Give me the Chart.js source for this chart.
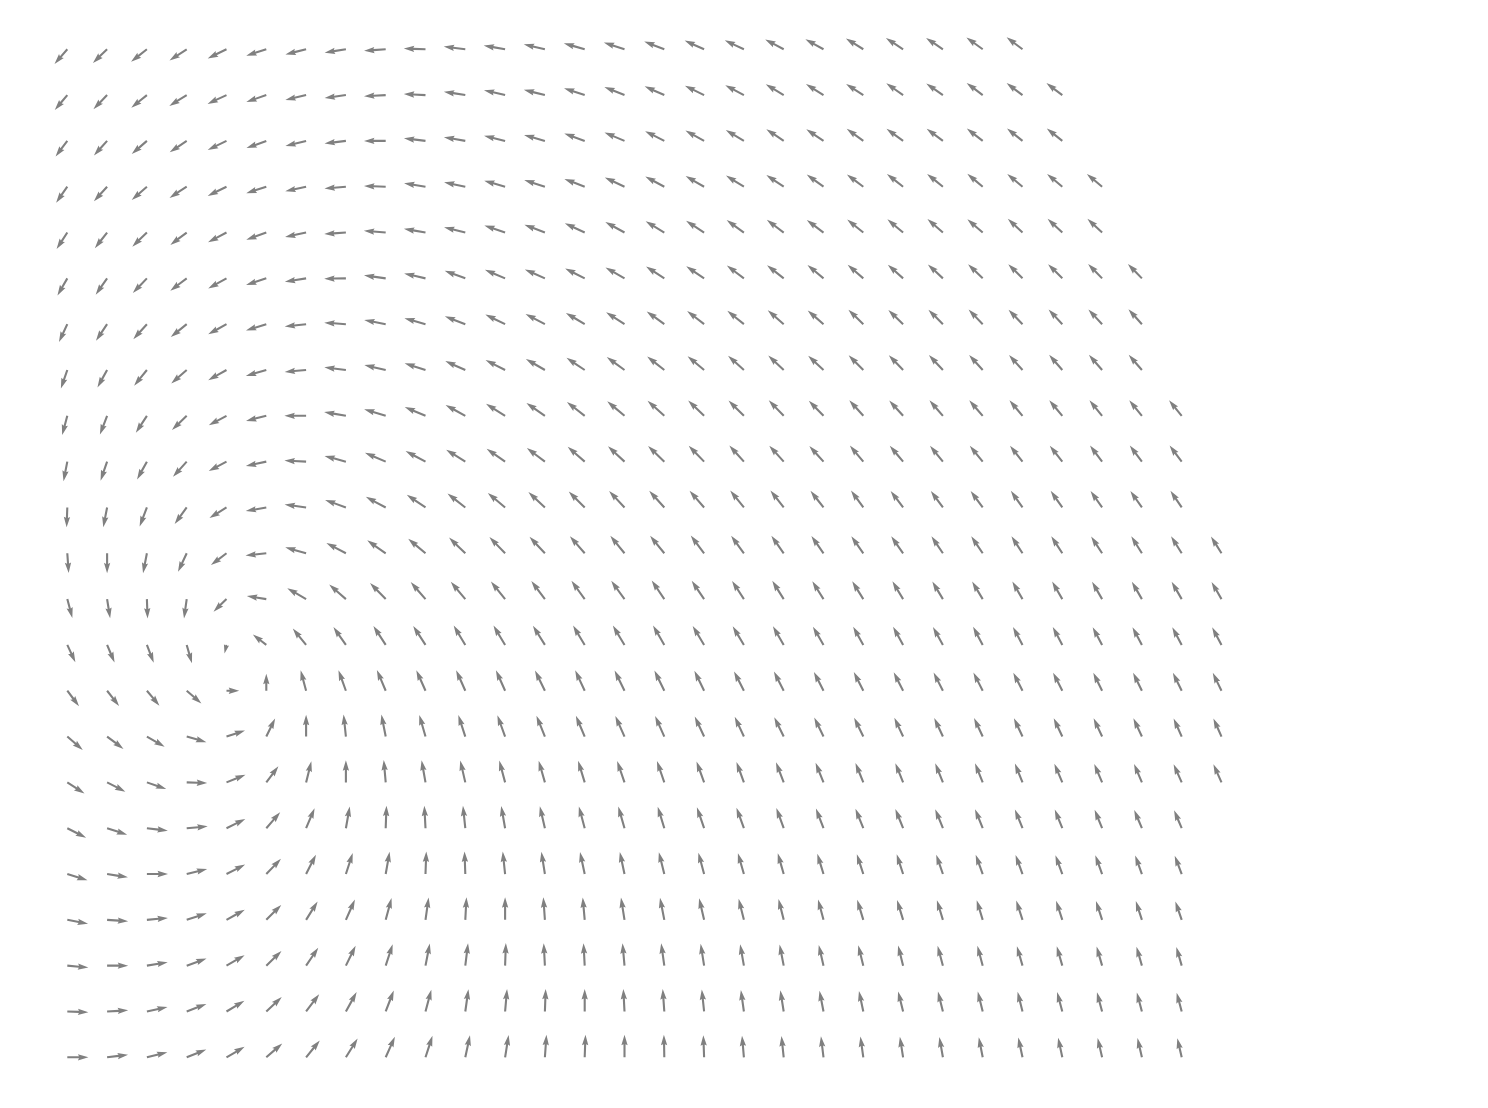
<!DOCTYPE html>
<html>
<head>
<meta charset="utf-8">
<script src="https://cdn.jsdelivr.net/npm/chart.js@4/dist/chart.umd.min.js"></script>
<style>
  html, body { margin: 0; padding: 0; background: #ffffff; }
  #wrap { width: 1488px; height: 1108px; }
</style>
</head>
<body>
<div id="wrap"><canvas id="c" width="1488" height="1108"></canvas></div>
<script>
// Vector directions (degrees, 0 = pointing right, 90 = pointing up), one list per grid row, top row first.
const angles = [
  [229,224,218,213,206,198,194,189,184,178,173,170,167,164,162,159,156,155,152,151,148,147,146,144,143],
  [230,226,219,212,205,199,193,188,183,177,171,167,166,162,158,156,154,152,149,148,147,145,145,143,143,143],
  [233,228,221,214,206,200,194,187,180,173,170,166,164,160,157,153,151,149,146,146,144,144,143,142,141,141],
  [235,228,221,213,206,198,192,185,178,171,168,164,162,159,155,152,150,148,146,144,143,142,141,140,140,140,140],
  [237,232,224,217,208,200,192,184,175,170,166,161,159,155,151,149,147,144,143,143,141,140,139,139,137,137,137],
  [240,235,226,217,209,198,189,181,172,167,160,157,156,153,150,147,146,143,142,140,139,138,137,136,135,135,134,134],
  [245,236,228,219,209,197,186,176,169,164,159,154,152,149,147,144,142,141,139,139,136,136,135,134,134,133,133,132],
  [251,241,231,221,209,196,185,173,167,162,156,153,150,146,144,142,140,138,137,137,135,134,133,132,132,131,131,131],
  [255,249,237,224,208,194,180,170,163,157,151,148,145,142,140,138,136,135,134,134,132,132,131,131,130,130,129,129,129],
  [259,251,241,228,208,192,177,165,157,152,148,145,143,139,137,136,134,132,132,132,130,130,129,129,128,128,127,127,127],
  [268,259,249,234,212,190,172,160,152,146,142,140,137,135,133,132,131,129,128,128,126,127,126,126,125,125,125,125,124],
  [274,270,259,245,217,186,164,152,145,140,136,134,133,131,129,129,127,126,125,125,125,125,124,124,123,123,123,122,122,122],
  [285,279,272,262,224,171,150,139,134,131,130,129,127,126,126,124,124,123,122,122,122,121,121,121,120,120,120,120,120,120],
  [295,293,291,286,257,142,129,125,123,123,121,121,122,121,121,120,121,121,120,120,119,119,119,118,118,118,118,118,118,118],
  [307,308,310,319,0,90,105,110,113,114,114,114,116,115,116,116,116,117,117,117,117,117,117,117,117,117,116,116,116,116],
  [319,323,330,344,18,64,90,96,101,106,108,110,112,113,114,114,115,115,116,116,116,115,115,115,115,115,115,115,114,114],
  [327,333,341,358,22,53,76,90,95,100,103,105,106,107,109,109,110,110,111,112,112,112,112,112,112,113,113,113,114,114],
  [333,342,353,5,26,49,67,80,88,93,96,100,103,105,106,107,109,110,110,111,112,112,112,112,112,112,112,113,113],
  [343,351,0,14,27,46,63,72,80,88,92,96,99,102,102,104,105,106,106,107,108,108,109,110,110,110,110,110,111],
  [349,356,5,18,29,45,58,66,75,82,87,90,94,95,99,101,103,104,104,105,107,107,107,107,108,108,108,108,109],
  [355,0,9,20,30,44,56,64,72,79,83,88,93,93,95,98,99,100,101,103,104,104,105,105,106,106,106,106,106],
  [358,3,12,21,31,43,53,61,69,75,82,85,88,90,93,94,96,98,99,101,102,104,104,104,104,105,105,105,105],
  [0,7,14,22,30,41,51,58,66,72,78,81,86,88,90,91,92,95,96,97,98,99,100,101,102,102,103,103,103]
];

// Relative vector magnitudes, same layout as the angles.
const magnitudes = [
  [0.95,0.96,0.98,1.0,1.02,1.03,1.04,1.05,1.06,1.06,1.06,1.06,1.06,1.06,1.06,1.05,1.04,1.03,1.02,1.01,1.0,1.0,0.99,0.98,0.97],
  [0.95,0.96,0.98,1.0,1.02,1.03,1.04,1.05,1.06,1.06,1.06,1.06,1.06,1.06,1.06,1.05,1.04,1.03,1.02,1.01,1.0,1.0,0.99,0.98,0.97,0.97],
  [0.95,0.96,0.98,1.0,1.02,1.03,1.04,1.05,1.06,1.06,1.06,1.06,1.06,1.06,1.06,1.05,1.04,1.03,1.02,1.01,1.0,1.0,0.99,0.98,0.97,0.97],
  [0.95,0.96,0.98,1.0,1.02,1.03,1.04,1.05,1.06,1.06,1.06,1.06,1.06,1.06,1.06,1.05,1.04,1.03,1.02,1.01,1.0,1.0,0.99,0.98,0.97,0.97,0.97],
  [0.96,0.97,0.99,1.0,1.02,1.04,1.05,1.06,1.07,1.07,1.07,1.07,1.07,1.07,1.07,1.06,1.05,1.04,1.03,1.02,1.01,1.0,1.0,0.99,0.98,0.98,0.98],
  [0.96,0.97,0.99,1.0,1.02,1.04,1.05,1.06,1.07,1.07,1.07,1.07,1.07,1.07,1.07,1.06,1.05,1.04,1.03,1.02,1.01,1.0,1.0,0.99,0.98,0.98,0.98,0.98],
  [0.96,0.97,0.99,1.0,1.02,1.04,1.05,1.06,1.07,1.07,1.07,1.07,1.07,1.07,1.07,1.06,1.05,1.04,1.03,1.02,1.01,1.0,1.0,0.99,0.98,0.98,0.98,0.98],
  [0.96,0.97,0.99,1.0,1.02,1.04,1.05,1.06,1.07,1.07,1.07,1.07,1.07,1.07,1.07,1.06,1.05,1.04,1.03,1.02,1.01,1.0,1.0,0.99,0.98,0.98,0.98,0.98],
  [0.97,0.98,0.99,1.0,0.98,1.02,1.06,1.08,1.1,1.1,1.1,1.1,1.1,1.1,1.1,1.1,1.08,1.06,1.05,1.03,1.02,1.01,1.0,1.0,0.99,0.99,0.98,0.98,0.98],
  [0.97,0.98,0.99,1.0,0.98,1.02,1.06,1.08,1.1,1.1,1.1,1.1,1.1,1.1,1.1,1.1,1.08,1.06,1.05,1.03,1.02,1.01,1.0,1.0,0.99,0.99,0.98,0.98,0.98],
  [0.97,0.98,0.99,1.0,0.98,1.02,1.06,1.08,1.1,1.1,1.1,1.1,1.1,1.1,1.1,1.1,1.08,1.06,1.05,1.03,1.02,1.01,1.0,1.0,0.99,0.99,0.98,0.98,0.98],
  [0.97,0.98,0.99,1.0,0.95,1.02,1.06,1.08,1.1,1.1,1.1,1.1,1.1,1.1,1.1,1.1,1.08,1.06,1.05,1.03,1.02,1.01,1.0,1.0,0.99,0.99,0.98,0.98,0.98,0.97],
  [0.95,0.95,0.95,0.95,0.88,0.96,1.06,1.08,1.1,1.1,1.1,1.1,1.1,1.1,1.1,1.1,1.08,1.06,1.05,1.03,1.02,1.01,1.0,1.0,0.99,0.99,0.98,0.98,0.98,0.97],
  [0.93,0.93,0.93,0.93,0.43,0.83,1.03,1.06,1.1,1.1,1.1,1.1,1.1,1.1,1.1,1.1,1.08,1.06,1.05,1.03,1.02,1.01,1.0,1.0,0.99,0.99,0.98,0.98,0.98,0.97],
  [0.95,0.95,0.95,0.95,0.62,0.83,1.03,1.06,1.1,1.1,1.1,1.1,1.1,1.1,1.1,1.1,1.08,1.06,1.05,1.03,1.02,1.01,1.0,1.0,0.99,0.99,0.98,0.98,0.98,0.97],
  [1.0,1.0,1.0,1.0,0.95,0.98,1.06,1.08,1.1,1.1,1.1,1.1,1.1,1.1,1.1,1.1,1.08,1.06,1.05,1.03,1.02,1.01,1.0,1.0,0.99,0.99,0.98,0.98,0.97,0.97],
  [1.0,1.0,1.0,1.0,1.0,0.98,1.06,1.08,1.1,1.1,1.1,1.1,1.1,1.1,1.1,1.1,1.08,1.06,1.05,1.03,1.02,1.01,1.0,1.0,0.99,0.99,0.98,0.98,0.97,0.97],
  [1.03,1.03,1.03,1.03,1.02,1.03,1.06,1.08,1.1,1.1,1.1,1.1,1.1,1.1,1.1,1.1,1.08,1.06,1.05,1.03,1.02,1.01,1.0,1.0,0.99,0.98,0.97,0.96,0.95],
  [1.03,1.03,1.03,1.03,1.02,1.03,1.06,1.08,1.1,1.1,1.1,1.1,1.1,1.1,1.1,1.1,1.08,1.06,1.05,1.03,1.02,1.01,1.0,1.0,0.99,0.98,0.97,0.96,0.95],
  [1.03,1.03,1.03,1.03,1.02,1.03,1.06,1.08,1.1,1.1,1.1,1.1,1.1,1.1,1.1,1.1,1.08,1.06,1.05,1.03,1.02,1.01,1.0,1.0,0.99,0.98,0.97,0.96,0.95],
  [1.03,1.03,1.03,1.03,1.02,1.03,1.06,1.08,1.1,1.1,1.1,1.1,1.1,1.1,1.1,1.1,1.08,1.06,1.05,1.03,1.02,1.01,1.0,1.0,0.99,0.98,0.97,0.96,0.95],
  [1.03,1.03,1.03,1.03,1.02,1.03,1.06,1.08,1.1,1.1,1.1,1.1,1.1,1.1,1.1,1.1,1.08,1.06,1.05,1.03,1.02,1.01,1.0,1.0,0.99,0.98,0.97,0.96,0.95],
  [1.03,1.03,1.03,1.03,1.02,1.03,1.06,1.08,1.1,1.1,1.1,1.1,1.1,1.1,1.1,1.1,1.08,1.06,1.05,1.03,1.02,1.01,1.0,1.0,0.99,0.98,0.97,0.96,0.95]
];

const nRows = angles.length;

const points = [];
angles.forEach((row, r) => {
  row.forEach((a, c) => {
    points.push({ x: c, y: nRows - 1 - r, angle: a, mag: magnitudes[r][c] });
  });
});

const ARROW_COLOR = '#808080';
const BASE_LEN = 20.5;
const SHAFT_W = 2.1;

function drawArrow(ctx, x0, y0, angDeg, len) {
  const w = SHAFT_W;
  const hl = 5 * w, hal = 4.5 * w, hw = 3 * w;
  const minsh = 1 * hl;
  let xs, ys;
  if (len < minsh) {
    const s = len / minsh;
    xs = [0, minsh - hal, minsh - hl, minsh].map(v => v * s);
    ys = [w / 2, w / 2, hw / 2, 0].map(v => v * s);
  } else {
    xs = [0, len - hal, len - hl, len];
    ys = [w / 2, w / 2, hw / 2, 0];
  }
  const ii = [0, 1, 2, 3, 2, 1, 0];
  const sg = [1, 1, 1, 1, -1, -1, -1];
  const t = angDeg * Math.PI / 180;
  const ca = Math.cos(t), sa = Math.sin(t);
  ctx.beginPath();
  ii.forEach((k, j) => {
    const px = xs[k], py = ys[k] * sg[j];
    const rx = px * ca - py * sa;
    const ry = px * sa + py * ca;
    const sx = x0 + rx, sy = y0 - ry;
    if (j === 0) ctx.moveTo(sx, sy); else ctx.lineTo(sx, sy);
  });
  ctx.closePath();
  ctx.fill();
}

const quiverPlugin = {
  id: 'quiver',
  afterDatasetsDraw(chart) {
    const ctx = chart.ctx;
    const meta = chart.getDatasetMeta(0);
    const ds = chart.data.datasets[0];
    ctx.save();
    ctx.fillStyle = ARROW_COLOR;
    meta.data.forEach((el, i) => {
      const d = ds.data[i];
      drawArrow(ctx, el.x, el.y, d.angle, d.mag * BASE_LEN);
    });
    ctx.restore();
  }
};

const PX_X = 39.8, PX_Y = 45.82, W = 1488, H = 1108;
const X0PX = 67.3, Y0PX = 1057.3;
const xMin = -X0PX / PX_X, xMax = xMin + W / PX_X;
const yMax = Y0PX / PX_Y, yMin = yMax - H / PX_Y;

new Chart(document.getElementById('c'), {
  type: 'scatter',
  data: {
    datasets: [{
      data: points,
      pointRadius: 0,
      pointHoverRadius: 0,
      showLine: false
    }]
  },
  options: {
    responsive: false,
    animation: false,
    clip: false,
    layout: { padding: 0 },
    plugins: { legend: { display: false }, tooltip: { enabled: false } },
    scales: {
      x: { type: 'linear', display: false, min: xMin, max: xMax },
      y: { type: 'linear', display: false, min: yMin, max: yMax }
    }
  },
  plugins: [quiverPlugin]
});
</script>
</body>
</html>
